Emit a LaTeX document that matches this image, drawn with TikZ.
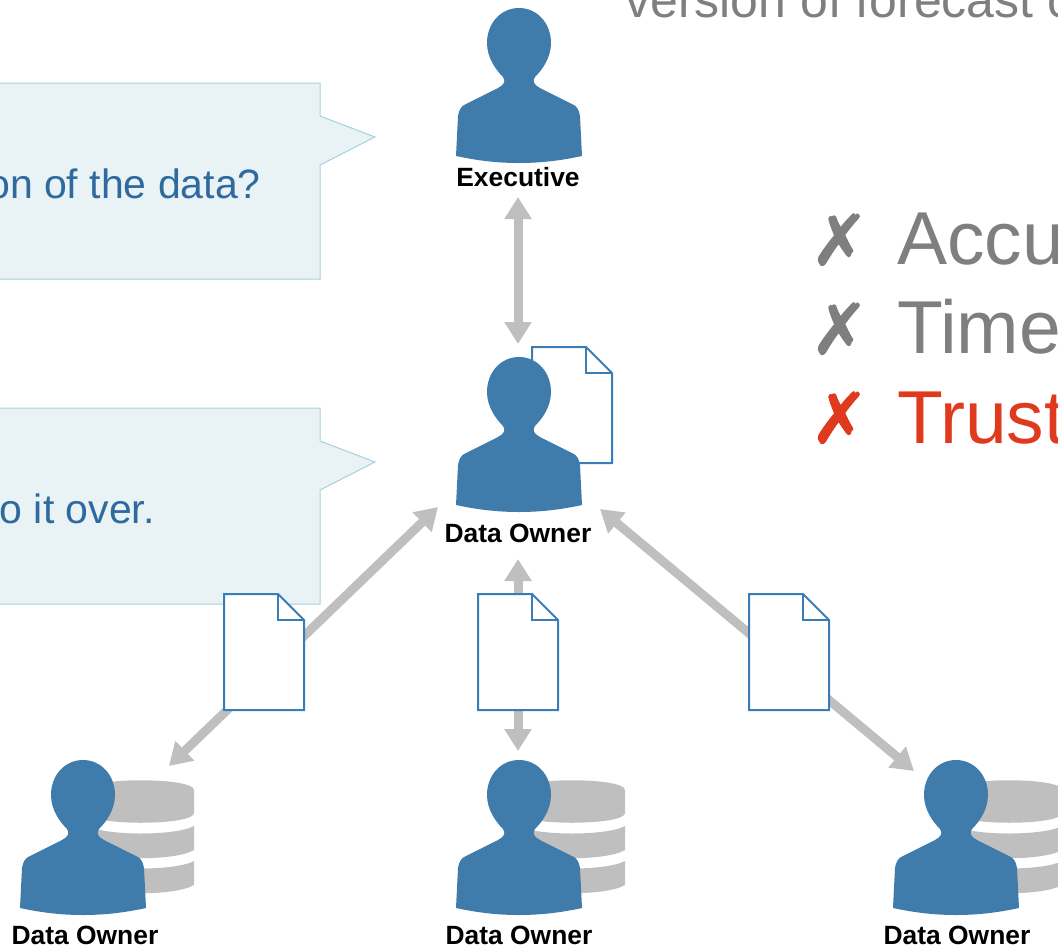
\documentclass[tikz,border=0pt]{standalone}
\usepackage{fontspec}
\setmainfont{Liberation Sans}
\newfontfamily\symfont[FakeBold=1.5]{DejaVu Sans}
\usetikzlibrary{positioning,arrows.meta}
\definecolor{ownerblue}{RGB}{63,124,172}
\definecolor{pageblue}{RGB}{58,125,182}
\definecolor{linkgray}{RGB}{191,191,191}
\definecolor{textgray}{RGB}{127,127,127}
\definecolor{crossred}{RGB}{224,58,30}
\definecolor{notefill}{RGB}{233,243,246}
\definecolor{noteline}{RGB}{165,208,222}
\definecolor{noteblue}{RGB}{47,106,158}
\tikzset{
  link/.style={draw=linkgray,line width=9pt,{Triangle[length=22pt,width=26pt]}-{Triangle[length=22pt,width=26pt]}},
  ownerlabel/.style={font=\bfseries\fontsize{26.4}{30}\selectfont,text=black,inner sep=0pt,anchor=base},
  notetext/.style={font=\fontsize{41}{46}\selectfont,text=noteblue,inner sep=0pt,anchor=base east},
  notebox/.style={fill=notefill,draw=noteline,line width=1pt},
  bigtext/.style={font=\fontsize{75}{80}\selectfont,inner sep=0pt,anchor=base west},
  crossmark/.style={font=\symfont\fontsize{70}{74}\selectfont,inner sep=0pt,anchor=base west},
  owner/.pic={
    \fill[ownerblue] (0,0) .. controls (18,0) and (32,15) .. (32,35)
      .. controls (32,50) and (23,62) .. (16,69) .. controls (13,73) and (15,77) .. (21,80)
      -- (53,96) .. controls (58,98) and (60,102) .. (61,108) -- (63,148)
      .. controls (40,153) and (20,155) .. (0,155) .. controls (-20,155) and (-40,153) .. (-63,148)
      -- (-61,108) .. controls (-60,102) and (-58,98) .. (-53,96) -- (-21,80)
      .. controls (-15,77) and (-13,73) .. (-16,69) .. controls (-23,62) and (-32,50) .. (-32,35)
      .. controls (-32,15) and (-18,0) .. (0,0) -- cycle;
  },
  docpage/.pic={
    \draw[pageblue,fill=white,line width=2pt,line join=miter] (0,0) -- (54,0) -- (80,26) -- (80,116) -- (0,116) -- cycle;
    \draw[pageblue,line width=2pt] (54,0) -- (54,26) -- (80,26);
  },
  dbstack/.pic={
    \fill[linkgray] (-53,10) .. controls (-53,-3) and (53,-3) .. (53,10) -- (53,33)
      .. controls (53,46) and (-53,46) .. (-53,33) -- cycle;
    \fill[linkgray] (-53,46) .. controls (-35,56) and (35,56) .. (53,46) -- (53,70)
      .. controls (35,81) and (-35,81) .. (-53,70) -- cycle;
    \fill[linkgray] (-53,81) .. controls (-35,91) and (35,91) .. (53,81) -- (53,105)
      .. controls (35,116) and (-35,116) .. (-53,105) -- cycle;
  }
}
\begin{document}
\begin{tikzpicture}[x=1pt,y=-1pt]
\useasboundingbox (0,0) rectangle (1058,948);
\clip (0,0) rectangle (1058,948);

% Callouts
\draw[notebox] (-5,83) -- (320,83) -- (320,116) -- (375,137) -- (320,165) -- (320,279) -- (-5,279) -- cycle;
\draw[notebox] (-5,408) -- (320,408) -- (320,441) -- (375,462) -- (320,490) -- (320,604) -- (-5,604) -- cycle;
\node[notetext] (noteversion) at (261,198) {on of the data?};
\node[notetext] (noteover) at (155,523) {o it over.};

% Right side text
\node[font=\fontsize{50}{54}\selectfont,text=textgray,inner sep=0pt,anchor=base west] (headline) at (625,17) {version of forecast c};
\node[crossmark,text=textgray] (crossa) at (810,265) {✗};
\node[crossmark,text=textgray] (crossb) at (810,354) {✗};
\node[crossmark,text=crossred] (crossc) at (810,443) {✗};
\node[bigtext,text=textgray] (accu) at (897,264) {Accu};
\node[bigtext,text=textgray] (time) at (897,353) {Time};
\node[bigtext,text=crossred] (trust) at (897,443) {Trust};

% Databases
\pic (dba) at (141,780) {dbstack};
\pic (dbb) at (572,780) {dbstack};
\pic (dbc) at (1009,780) {dbstack};

% Link ends
\coordinate (execend) at (518,197);
\coordinate (midtop) at (518,344);
\coordinate (midleft) at (438,507);
\coordinate (midlow) at (518,559);
\coordinate (midright) at (600,509);
\coordinate (lefttop) at (169,766);
\coordinate (centertop) at (518,751);
\coordinate (righttop) at (914,771);

% Links
\draw[link] (execend) -- (midtop);
\draw[link] (midleft) -- (lefttop);
\draw[link] (midlow) -- (centertop);
\draw[link] (midright) -- (righttop);

% Documents
\pic (docmid) at (532,347) {docpage};
\pic (docleft) at (224,594) {docpage};
\pic (doccenter) at (478,594) {docpage};
\pic (docright) at (749,594) {docpage};

% People
\pic (exec) at (519,8) {owner};
\pic (ownermid) at (519,357) {owner};
\pic (ownera) at (83,760) {owner};
\pic (ownerb) at (519,760) {owner};
\pic (ownerc) at (956,760) {owner};

% Labels
\node[ownerlabel] (execname) at (518,186) {Executive};
\node[ownerlabel] (midname) at (518,542) {Data Owner};
\node[ownerlabel] (namea) at (85,944) {Data Owner};
\node[ownerlabel] (nameb) at (519,944) {Data Owner};
\node[ownerlabel] (namec) at (957,944) {Data Owner};
\end{tikzpicture}
\end{document}
